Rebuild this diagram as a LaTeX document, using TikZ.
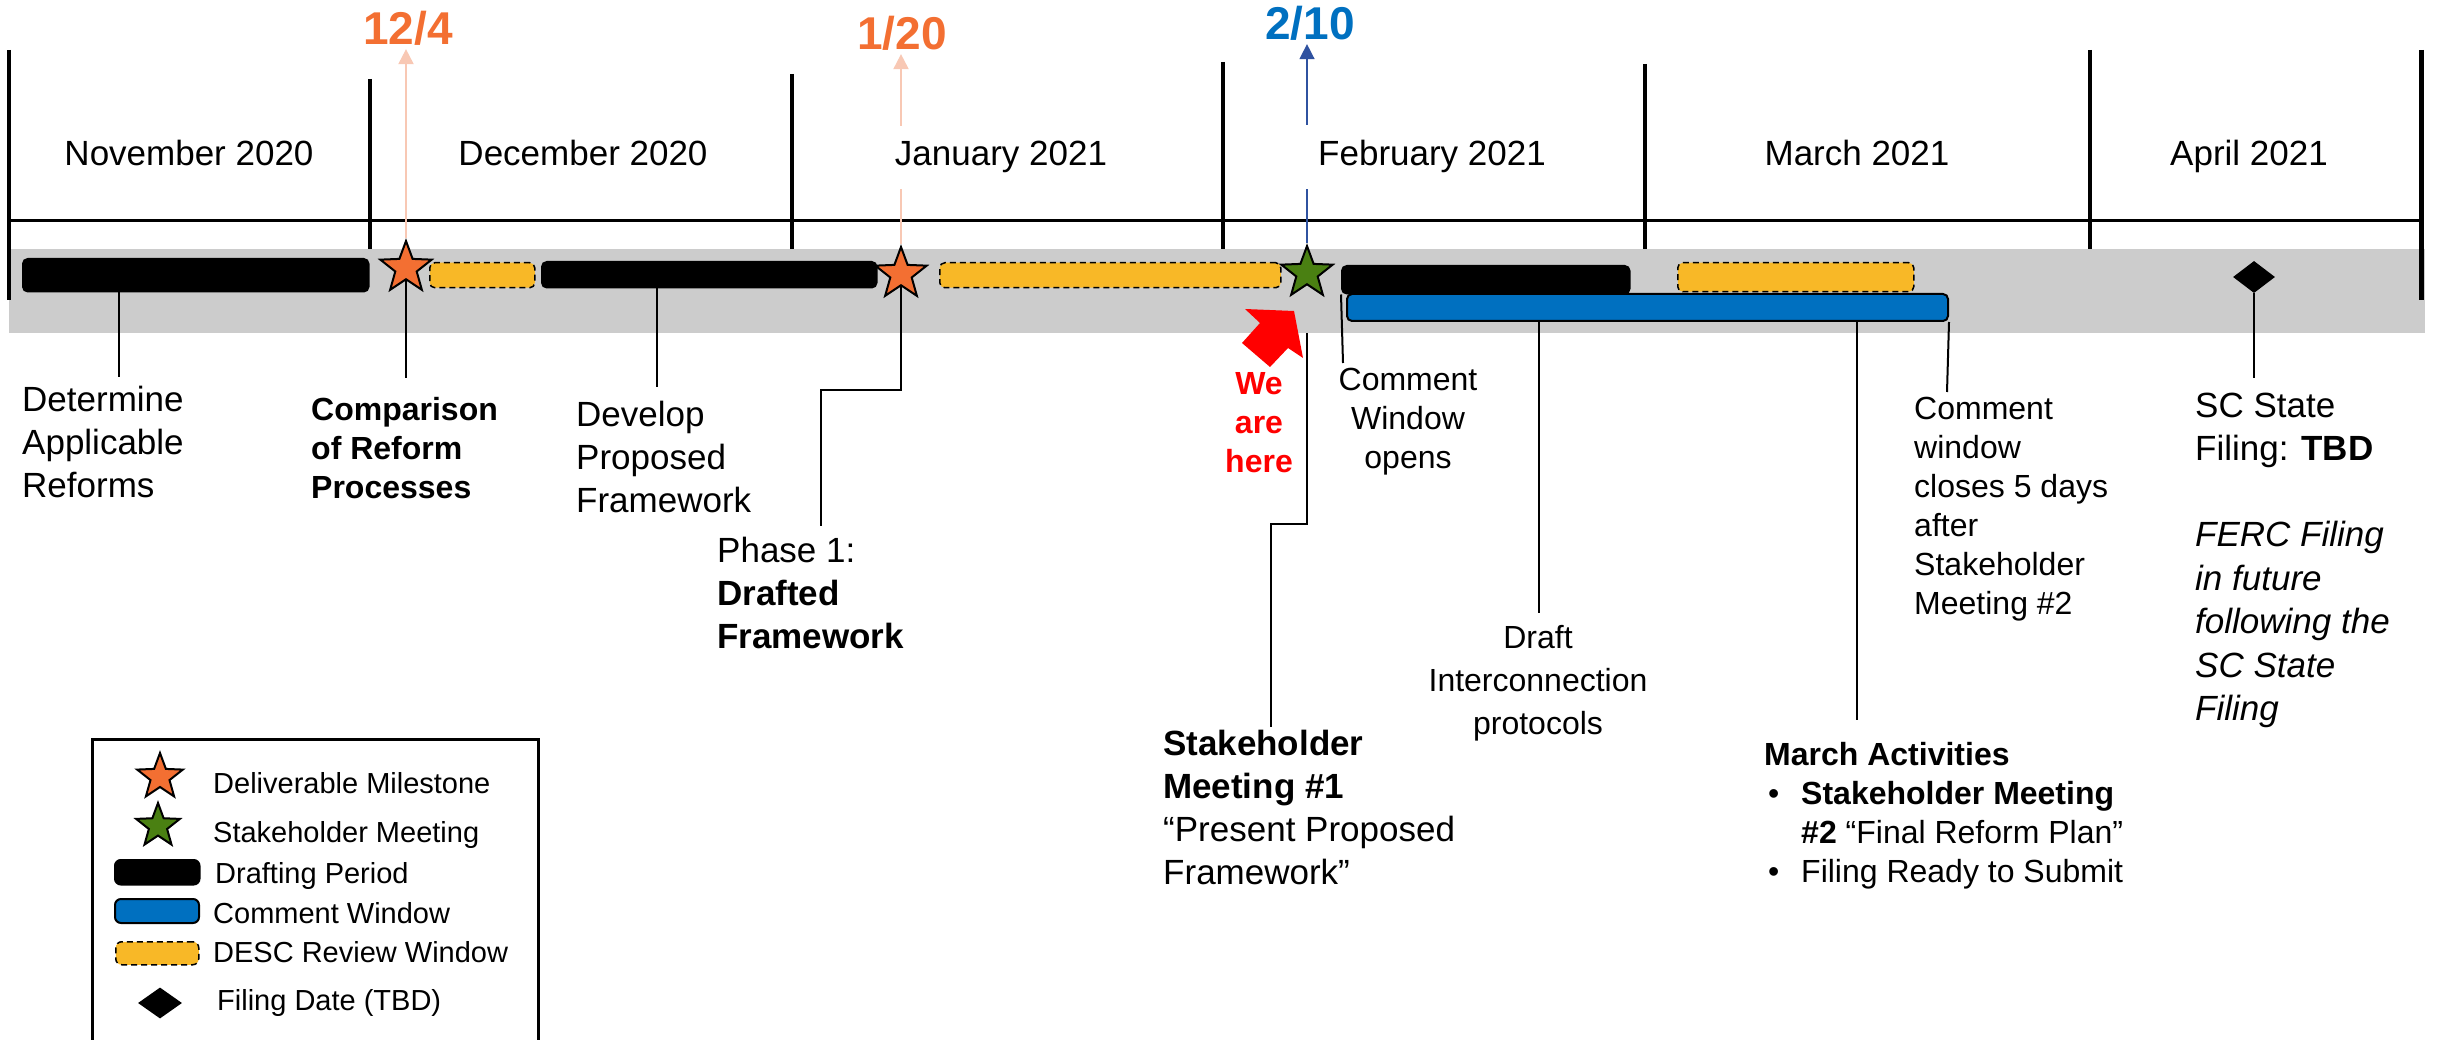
\documentclass[tikz,border=0pt]{standalone}
\usepackage{fontspec}
\setmainfont{Liberation Sans}
\usetikzlibrary{arrows.meta,shapes.geometric}

\definecolor{msorange}{HTML}{F36F32}
\definecolor{arrowsalmon}{HTML}{F8C8B4}
\definecolor{datablue}{HTML}{0070C0}
\definecolor{arrowblue}{HTML}{2F52A0}
\definecolor{meetgreen}{HTML}{4A8012}
\definecolor{reviewyellow}{HTML}{F8B827}
\definecolor{commentblue}{HTML}{0070C0}
\definecolor{bandgrey}{HTML}{CCCCCC}

\begin{document}
\begin{tikzpicture}[x=1pt,y=-1pt]
\tikzset{
  barbox/.style = {draw=black, line width=1.5pt, rounded corners=5pt, anchor=north west, inner sep=0},
  draftbar/.style = {barbox, fill=black},
  reviewbar/.style = {barbox, fill=reviewyellow, dash pattern=on 6pt off 4pt},
  commentbar/.style = {barbox, fill=commentblue, line width=2pt},
  milestone/.style = {star, star points=5, star point ratio=2.4, draw=black, line width=2pt, fill=msorange, inner sep=0, minimum size=54pt},
  meeting/.style = {milestone, fill=meetgreen},
  filing/.style = {diamond, fill=black, inner sep=0, minimum width=42pt, minimum height=32pt},
  monthlbl/.style = {font=\fontsize{35}{43}\selectfont, fill=white, inner sep=16pt, anchor=base},
  monthsep/.style = {line width=4pt},
  leader/.style = {line width=2pt},
  datelbl/.style = {font=\fontsize{46}{50}\selectfont\bfseries, inner sep=0, anchor=base},
  datearrow/.style = {->, >={Triangle[length=15pt,width=15pt]}, line width=2pt, shorten >=3pt},
  lblbig/.style = {font=\fontsize{35}{43}\selectfont, align=left, inner sep=0, anchor=north west},
  lblsmall/.style = {font=\fontsize{32}{39}\selectfont, align=left, inner sep=0, anchor=north west},
  legendtxt/.style = {font=\fontsize{29}{35}\selectfont, inner sep=0, anchor=base west}
}
\useasboundingbox (0,0) rectangle (2438,1040);

\node[fill=bandgrey, anchor=north west, inner sep=0, minimum width=2416pt, minimum height=84pt] (band) at (9,249) {};

\draw[monthsep] (9,50) -- (9,300);
\draw[monthsep] (370,79) -- (370,249);
\draw[monthsep] (792,74) -- (792,249);
\draw[monthsep] (1223,62) -- (1223,249);
\draw[monthsep] (1645,64) -- (1645,249);
\draw[monthsep] (2090,50) -- (2090,249);
\draw[monthsep, line width=5pt] (2421,50) -- (2421,300);
\draw[line width=3pt] (9,221) -- (2421,221);

\node[draftbar, minimum width=346pt, minimum height=33pt] (draft1) at (22,258) {};
\node[reviewbar, minimum width=105pt, minimum height=25pt] (review1) at (429,262) {};
\node[draftbar, minimum width=335pt, minimum height=26pt] (draft2) at (541,261) {};
\node[reviewbar, minimum width=341pt, minimum height=25pt] (review2) at (939,262) {};
\node[draftbar, minimum width=288pt, minimum height=28pt] (draft3) at (1341,265) {};
\node[commentbar, minimum width=601pt, minimum height=27pt] (comment) at (1346,293) {};
\node[reviewbar, minimum width=236pt, minimum height=29pt] (review3) at (1677,262) {};

\node[milestone] (ms1) at (406,268) {};
\node[milestone] (ms2) at (901,274) {};
\node[meeting] (sm1) at (1307,273) {};
\node[filing] (fd1) at (2254,277) {};

\coordinate (e1) at (119,377);
\coordinate (e2) at (406,378);
\coordinate (e3) at (657,387);
\coordinate (k4) at (821,390);
\coordinate (e4) at (821,526);
\coordinate (k5) at (1271,524);
\coordinate (e5) at (1271,727);
\coordinate (e6) at (1343,363);
\coordinate (e7) at (1539,613);
\coordinate (e8) at (1857,720);
\coordinate (e9) at (1947,392);
\coordinate (e10) at (2254,378);

\draw[leader] (draft1.south -| e1) -- (e1);
\draw[leader] (ms1.south) -- (e2);
\draw[leader] (draft2.south -| e3) -- (e3);
\draw[leader] (ms2.south) |- (k4) -- (e4);
\draw[leader] (sm1 |- band.south) |- (k5) -- (e5);
\draw[leader] (draft3.south west) -- (e6);
\draw[leader] (comment.south -| e7) -- (e7);
\draw[leader] (comment.south -| e8) -- (e8);
\draw[leader] (comment.south east) -- (e9);
\draw[leader] (fd1.south) -- (e10);

\node[datelbl, text=msorange] (d124) at (408,45) {12/4};
\node[datelbl, text=msorange] (d120) at (902,50) {1/20};
\node[datelbl, text=datablue] (d210) at (1310,40) {2/10};

\draw[datearrow, draw=arrowsalmon] (ms1.north) -- (ms1.north |- d124.south);
\draw[datearrow, draw=arrowsalmon] (ms2.north) -- (ms2.north |- d120.south);
\draw[datearrow, draw=arrowblue, line width=1.5pt] (sm1.north) -- (sm1.north |- d210.south);

\node[monthlbl] (nov) at (189,166) {November 2020};
\node[monthlbl] (dec) at (583,166) {December 2020};
\node[monthlbl] (jan) at (1001,166) {January 2021};
\node[monthlbl] (feb) at (1432,166) {February 2021};
\node[monthlbl] (mar) at (1857,166) {March 2021};
\node[monthlbl] (apr) at (2249,166) {April 2021};

\fill[red] (1294,311) -- (1303,358) -- (1288,348) -- (1270,367) -- (1242,343) -- (1260,323) -- (1245,309) -- cycle;

\node[lblbig] (detlbl) at (22,386) {Determine\\Applicable\\Reforms};
\node[lblsmall, font=\fontsize{32}{39}\selectfont\bfseries] (cmplbl) at (311,397) {Comparison\\of Reform\\Processes};
\node[lblbig] (devlbl) at (576,401) {Develop\\Proposed\\Framework};
\node[lblbig] (phaselbl) at (717,537) {Phase 1:\\\textbf{Drafted}\\\textbf{Framework}};
\node[lblsmall, font=\fontsize{32}{39}\selectfont\bfseries, text=red, align=center, anchor=north] (herelbl) at (1259,372) {We\\are\\here};
\node[lblsmall, align=center, anchor=north] (openlbl) at (1408,368) {Comment\\Window\\opens};
\node[lblsmall, font=\fontsize{32}{43}\selectfont, align=center, anchor=north] (intlbl) at (1538,625) {Draft\\Interconnection\\protocols};
\node[lblbig] (smlbl) at (1163,730) {\textbf{Stakeholder}\\\textbf{Meeting \#1}\\“Present Proposed\\Framework”};
\node[lblsmall] (closelbl) at (1914,397) {Comment\\window\\closes 5 days\\after\\Stakeholder\\Meeting \#2};
\node[lblbig] (filelbl) at (2195,393) {SC State\\Filing: \textbf{TBD}};
\node[lblbig, font=\fontsize{35}{43.5}\selectfont\itshape] (fercnote) at (2195,521) {FERC Filing\\in future\\following the\\SC State\\Filing};
\node[lblsmall] (marchlbl) at (1764,742) {\textbf{March Activities}\\
  \makebox[37pt][l]{\hspace{4pt}•}\textbf{Stakeholder Meeting}\\
  \hspace*{37pt}\textbf{\#2} “Final Reform Plan”\\
  \makebox[37pt][l]{\hspace{4pt}•}Filing Ready to Submit};

\draw[line width=3pt] (92,1045) |- (538,739) -- (538,1045);
\node[milestone, minimum size=48pt] (lgms) at (160,777) {};
\node[legendtxt] (lgmstxt) at (213,793) {Deliverable Milestone};
\node[meeting, minimum size=46pt] (lgsm) at (158,826) {};
\node[legendtxt] (lgsmtxt) at (213,842) {Stakeholder Meeting};
\node[draftbar, rounded corners=6pt, minimum width=85pt, minimum height=25pt] (lgdraft) at (114,859) {};
\node[legendtxt] (lgdrafttxt) at (215,883) {Drafting Period};
\node[commentbar, rounded corners=6pt, minimum width=84pt, minimum height=24pt] (lgcomment) at (114,898) {};
\node[legendtxt] (lgcommenttxt) at (213,923) {Comment Window};
\node[reviewbar, rounded corners=6pt, minimum width=83pt, minimum height=23pt] (lgreview) at (115,941) {};
\node[legendtxt] (lgreviewtxt) at (213,962) {DESC Review Window};
\node[filing, minimum width=44pt, minimum height=31pt] (lgfile) at (160,1003) {};
\node[legendtxt] (lgfiletxt) at (217,1010) {Filing Date (TBD)};
\end{tikzpicture}
\end{document}
